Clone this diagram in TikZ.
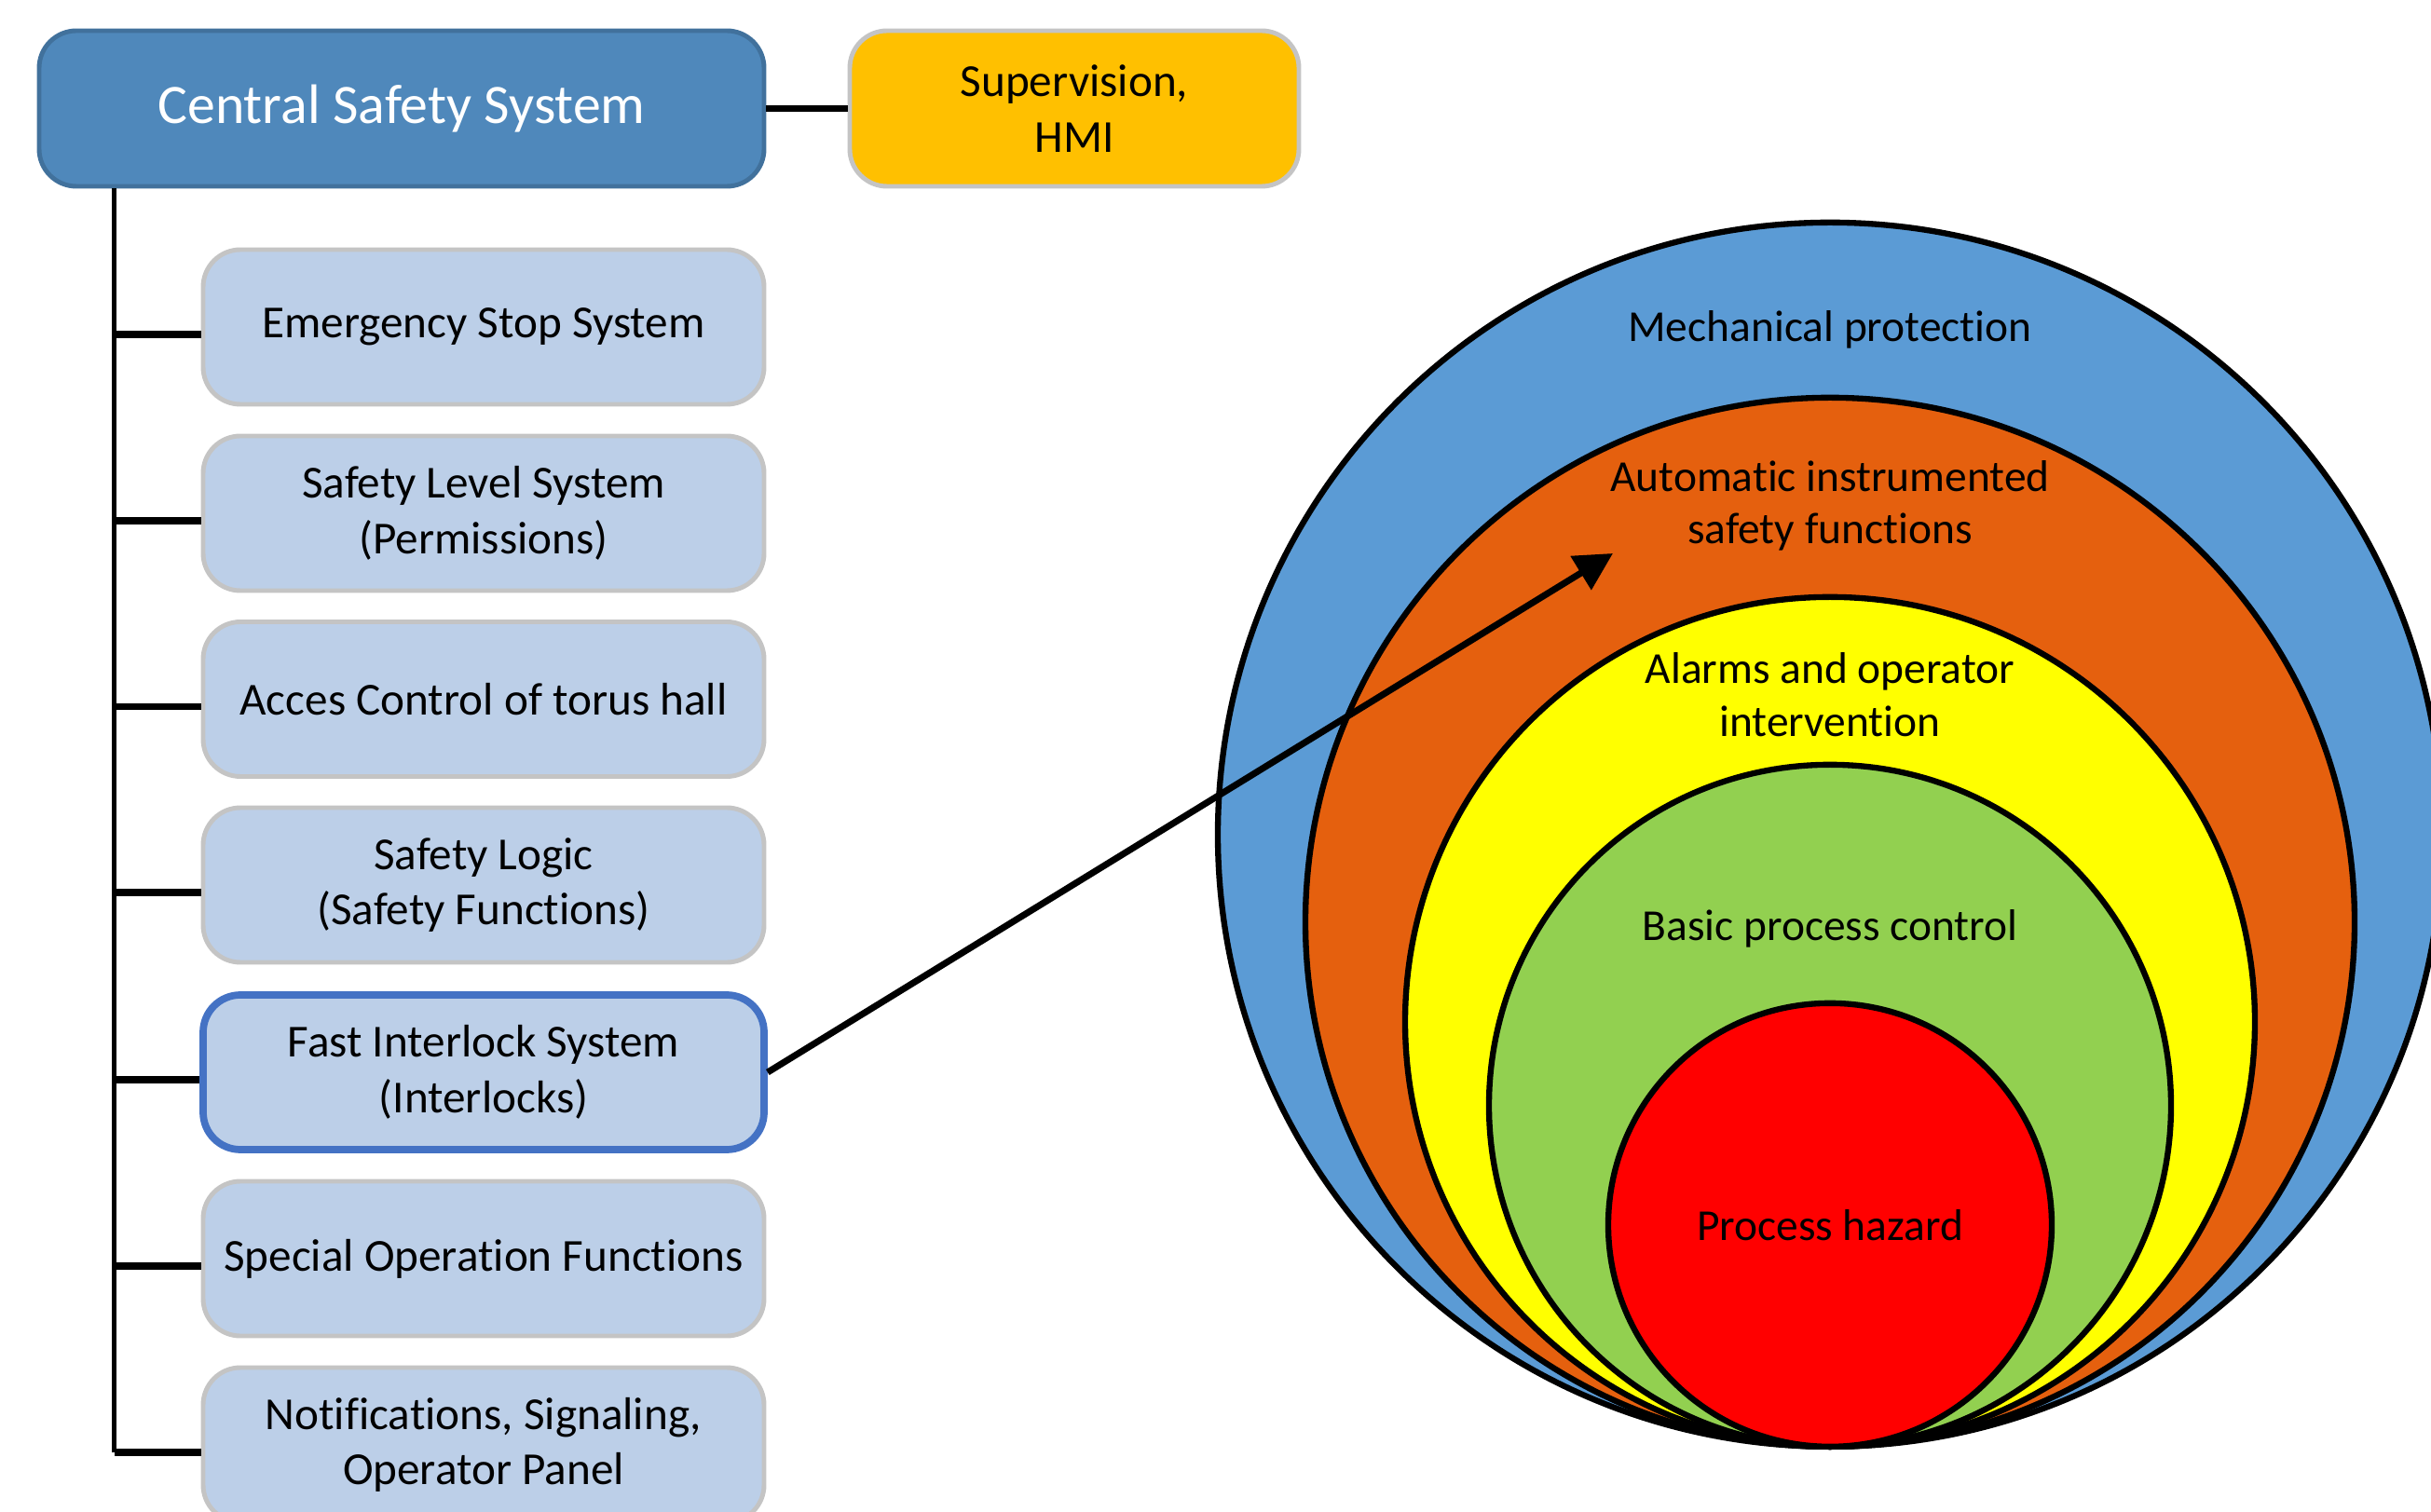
\documentclass[tikz,border=0pt]{standalone}
\usepackage{fontspec}
\setmainfont{Carlito}[RawFeature={-liga;-clig;-calt}]
\usetikzlibrary{positioning}
\usetikzlibrary{arrows.meta,calc}
\definecolor{cssblue}{RGB}{79,136,187}
\definecolor{cssborder}{RGB}{65,113,156}
\definecolor{subfill}{RGB}{188,207,232}
\definecolor{subborder}{RGB}{196,196,196}
\definecolor{hmiyellow}{RGB}{255,192,0}
\definecolor{fisborder}{RGB}{68,114,196}
\definecolor{mechblue}{RGB}{91,155,213}
\definecolor{autoorange}{RGB}{229,96,14}
\definecolor{alarmyellow}{RGB}{255,255,0}
\definecolor{basicgreen}{RGB}{146,208,80}
\definecolor{hazardred}{RGB}{255,0,0}
\tikzstyle{mainbox}=[rectangle,rounded corners=0.4cm,draw=cssborder,fill=cssblue,line width=1.4pt,minimum width=7.78cm,minimum height=1.67cm,text=white,font=\fontsize{17}{20}\selectfont,align=center]
\tikzstyle{hmibox}=[rectangle,rounded corners=0.4cm,draw=subborder,fill=hmiyellow,line width=1.4pt,minimum width=4.82cm,minimum height=1.67cm,font=\fontsize{14}{17}\selectfont,align=center]
\tikzstyle{subbox}=[rectangle,rounded corners=0.4cm,draw=subborder,fill=subfill,line width=1.4pt,minimum width=6.02cm,minimum height=1.66cm,font=\fontsize{14}{17}\selectfont,align=center]
\tikzstyle{layer}=[circle,draw=black,line width=1.8pt,inner sep=0pt,anchor=south]
\tikzstyle{layertext}=[font=\fontsize{13.5}{16}\selectfont,align=center]
\tikzstyle{link}=[line width=2pt]

\begin{document}
\begin{tikzpicture}
\useasboundingbox (0,0) rectangle (26.09,-16.23);

%Central system
    \node[mainbox] (central) at (4.31,-1.165) {Central Safety System};
    \node[hmibox] (hmi) at (11.53,-1.165) {Supervision,\\HMI};
    \draw[link] (central.east) -- (hmi.west);

%Subsystems
    \foreach \pos/\name/\label in {{(5.19,-3.51)/ess/Emergency Stop System}, {(5.19,-5.51)/sls/Safety Level System\\(Permissions)}, {(5.19,-7.505)/acc/Acces Control of torus hall}, {(5.19,-9.50)/slog/Safety Logic\\(Safety Functions)}, {(5.19,-13.51)/sof/Special Operation Functions}, {(5.19,-15.51)/nop/Notifications, Signaling,\\Operator Panel}}
        \node[subbox] (\name) at \pos {\label};
    \node[subbox, draw=fisborder, line width=2.2pt] (fis) at (5.19,-11.51) {Fast Interlock System\\(Interlocks)};

    \coordinate (trunk) at ([xshift=0.83cm]central.south west);
    \draw[line width=1.4pt] (trunk) -- ([yshift=-0.08cm]trunk |- nop.west);
    \foreach \name in {ess, sls, acc, slog, fis, sof, nop}
        \draw[link] ([yshift=-0.08cm]trunk |- \name.west) -- ([yshift=-0.08cm]\name.west);

%Protection layers
    \coordinate (base) at (19.64,-15.56);
    \foreach \name/\col/\size in {mech/mechblue/13.14, auto/autoorange/11.26, alarm/alarmyellow/9.12, basic/basicgreen/7.32, hazard/hazardred/4.76}
        \node[layer, fill=\col, minimum size=\size cm] (\name) at (base) {};

    \node[layertext] (mechtxt) at ([yshift=-1.18cm]mech.north) {Mechanical protection};
    \node[layertext] (autotxt) at ([yshift=-1.19cm]auto.north) {Automatic instrumented\\safety functions};
    \node[layertext] (alarmtxt) at ([yshift=-1.08cm]alarm.north) {Alarms and operator\\intervention};
    \node[layertext] (basictxt) at ([yshift=-1.79cm]basic.north) {Basic process control};
    \node[layertext] (hazardtxt) at (hazard) {Process hazard};

%Arrow
    \coordinate (tip) at (17.31,-5.94);
    \draw[link, -{Triangle[length=11.5pt,width=11.7pt]}] (fis.east) -- (tip);

\end{tikzpicture}
\end{document}
